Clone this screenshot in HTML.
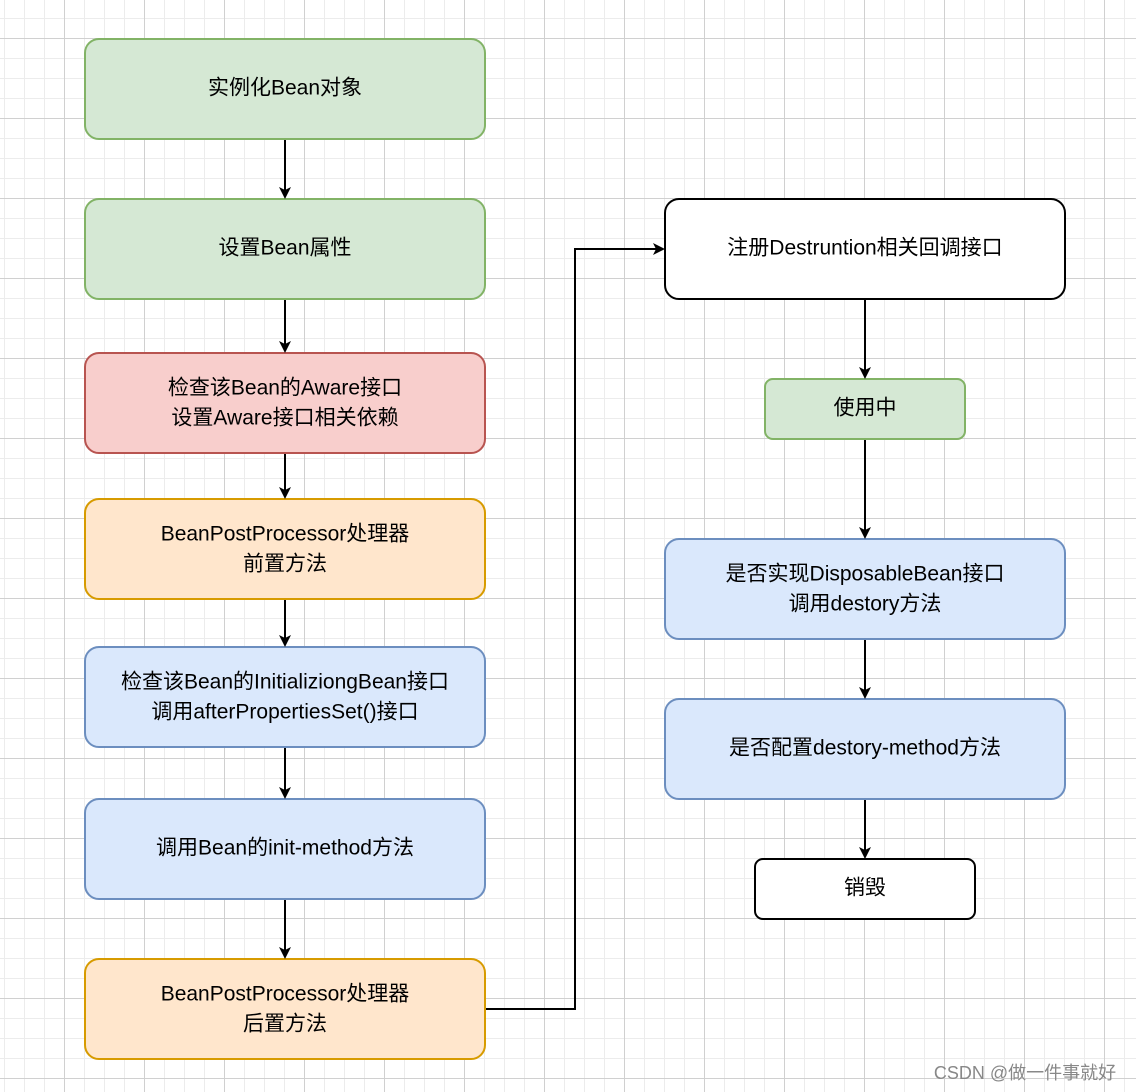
<!DOCTYPE html>
<html><head><meta charset="utf-8"><style>
html,body{margin:0;padding:0;}
body{width:1136px;height:1092px;overflow:hidden;background:#fff;
background-image:
linear-gradient(to right,#d0d0d0 1px,transparent 1px),
linear-gradient(to bottom,#d0d0d0 1px,transparent 1px),
linear-gradient(to right,#ececec 1px,transparent 1px),
linear-gradient(to bottom,#ececec 1px,transparent 1px);
background-size:80px 80px,80px 80px,20px 20px,20px 20px;
background-position:64px 0,0 38px,4px 0,0 18px;}
svg{position:absolute;left:0;top:0}
text{font-family:"Liberation Sans","Noto Sans CJK SC",sans-serif;font-size:21px;fill:#000;text-anchor:middle;dominant-baseline:central}
</style></head><body>
<svg width="1136" height="1092" viewBox="0 0 1136 1092">
<defs><marker id="a" markerWidth="12" markerHeight="12" refX="10" refY="6" orient="auto" markerUnits="userSpaceOnUse"><path d="M0,0 L12,6 L0,12 L3,6 Z" fill="#000"/></marker></defs>
<g stroke-width="2">
<rect x="85" y="39" width="400" height="100" rx="14" fill="#d5e8d4" stroke="#82b366"/>
<rect x="85" y="199" width="400" height="100" rx="14" fill="#d5e8d4" stroke="#82b366"/>
<rect x="85" y="353" width="400" height="100" rx="14" fill="#f8cecc" stroke="#b85450"/>
<rect x="85" y="499" width="400" height="100" rx="14" fill="#ffe6cc" stroke="#d79b00"/>
<rect x="85" y="647" width="400" height="100" rx="14" fill="#dae8fc" stroke="#6c8ebf"/>
<rect x="85" y="799" width="400" height="100" rx="14" fill="#dae8fc" stroke="#6c8ebf"/>
<rect x="85" y="959" width="400" height="100" rx="14" fill="#ffe6cc" stroke="#d79b00"/>
<rect x="665" y="199" width="400" height="100" rx="14" fill="#fff" stroke="#000"/>
<rect x="765" y="379" width="200" height="60" rx="8" fill="#d5e8d4" stroke="#82b366"/>
<rect x="665" y="539" width="400" height="100" rx="14" fill="#dae8fc" stroke="#6c8ebf"/>
<rect x="665" y="699" width="400" height="100" rx="14" fill="#dae8fc" stroke="#6c8ebf"/>
<rect x="755" y="859" width="220" height="60" rx="8" fill="#fff" stroke="#000"/>
</g>
<g stroke="#000" stroke-width="2" fill="none" marker-end="url(#a)">
<path d="M285,140 V197"/>
<path d="M285,300 V351"/>
<path d="M285,454 V497"/>
<path d="M285,600 V645"/>
<path d="M285,748 V797"/>
<path d="M285,900 V957"/>
<path d="M486,1009 H575 V249 H663"/>
<path d="M865,300 V377"/>
<path d="M865,440 V537"/>
<path d="M865,640 V697"/>
<path d="M865,800 V857"/>
</g>
<text x="285" y="88">实例化Bean对象</text>
<text x="285" y="248">设置Bean属性</text>
<text x="285" y="388">检查该Bean的Aware接口</text>
<text x="285" y="418">设置Aware接口相关依赖</text>
<text x="285" y="534">BeanPostProcessor处理器</text>
<text x="285" y="564">前置方法</text>
<text x="285" y="682">检查该Bean的InitializiongBean接口</text>
<text x="285" y="712">调用afterPropertiesSet()接口</text>
<text x="285" y="848">调用Bean的init-method方法</text>
<text x="285" y="994">BeanPostProcessor处理器</text>
<text x="285" y="1024">后置方法</text>
<text x="865" y="248">注册Destruntion相关回调接口</text>
<text x="865" y="408">使用中</text>
<text x="865" y="574">是否实现DisposableBean接口</text>
<text x="865" y="604">调用destory方法</text>
<text x="865" y="748">是否配置destory-method方法</text>
<text x="865" y="888">销毁</text>
<text x="1025" y="1073" style="font-size:18px;fill:#888">CSDN @做一件事就好</text>
</svg>
</body></html>
